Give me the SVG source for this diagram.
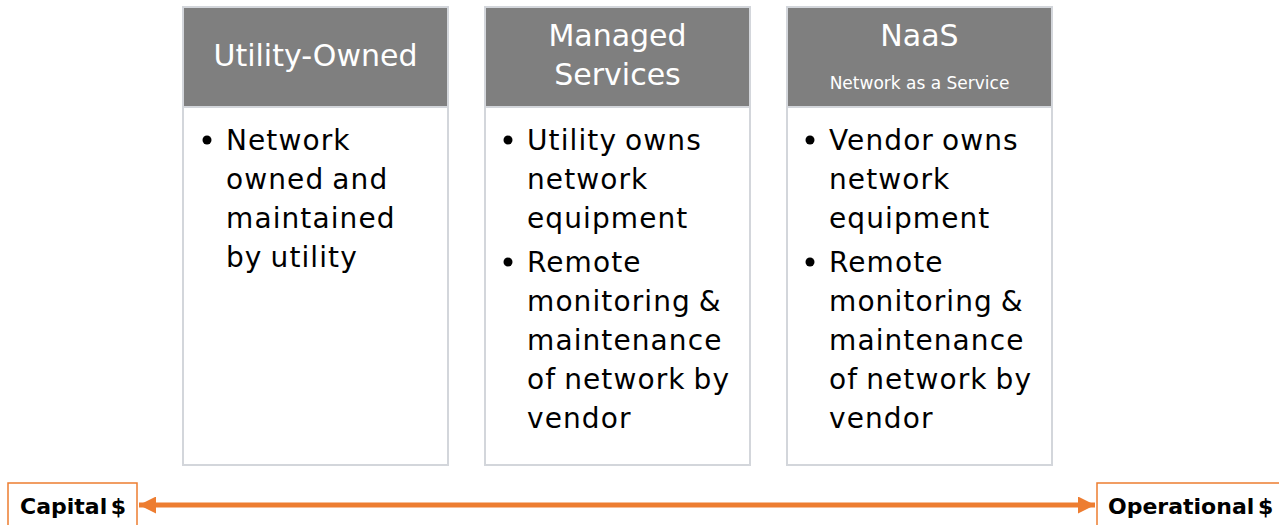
<svg xmlns="http://www.w3.org/2000/svg" width="1279" height="525" viewBox="0 0 1279 525">
<defs>
<style>
.box{fill:#ffffff;stroke:#D3D6DB;stroke-width:2}
.hdr{fill:#7F7F7F;stroke:#D3D6DB;stroke-width:2}
.ht{font-family:"DejaVu Sans",sans-serif;font-size:30px;fill:#ffffff;text-anchor:middle}
.hs{font-family:"DejaVu Sans",sans-serif;font-size:17px;fill:#ffffff;text-anchor:middle}
.bt{font-family:"DejaVu Sans",sans-serif;font-size:28px;fill:#000000;letter-spacing:1.1px;word-spacing:-2px}
.bul{fill:#000000}
.lab{fill:#ffffff;stroke:#ED7D31;stroke-width:1.5}
.lt{font-family:"DejaVu Sans",sans-serif;font-weight:bold;font-size:22px;fill:#000000;word-spacing:-4px}
</style>
<marker id="ah" viewBox="0 0 10 10" refX="10" refY="5" markerWidth="3.6" markerHeight="3.4" orient="auto-start-reverse" markerUnits="strokeWidth">
<path d="M0,0 L10,5 L0,10 z" fill="#ED7D31"/>
</marker>
</defs>
<rect width="1279" height="525" fill="#ffffff"/>

<g id="utility-owned">
<rect class="box" x="183" y="7" width="265" height="458"/>
<rect class="hdr" x="183" y="7" width="265" height="100"/>
<text class="ht" x="315.5" y="66">Utility-Owned</text>
<circle class="bul" cx="207" cy="140" r="4.5"/>
<text class="bt"><tspan x="226" y="150">Network</tspan><tspan x="226" y="189">owned and</tspan><tspan x="226" y="228">maintained</tspan><tspan x="226" y="267">by utility</tspan></text>
</g>

<g id="managed-services">
<rect class="box" x="485" y="7" width="265" height="458"/>
<rect class="hdr" x="485" y="7" width="265" height="100"/>
<text class="ht"><tspan x="617.5" y="46">Managed</tspan><tspan x="617.5" y="85">Services</tspan></text>
<circle class="bul" cx="508" cy="140" r="4.5"/>
<text class="bt"><tspan x="527" y="150">Utility owns</tspan><tspan x="527" y="189">network</tspan><tspan x="527" y="228">equipment</tspan></text>
<circle class="bul" cx="508" cy="262" r="4.5"/>
<text class="bt"><tspan x="527" y="272">Remote</tspan><tspan x="527" y="311">monitoring &amp;</tspan><tspan x="527" y="350">maintenance</tspan><tspan x="527" y="389">of network by</tspan><tspan x="527" y="428">vendor</tspan></text>
</g>

<g id="naas">
<rect class="box" x="787" y="7" width="265" height="458"/>
<rect class="hdr" x="787" y="7" width="265" height="100"/>
<text class="ht" x="919.5" y="46">NaaS</text>
<text class="hs" x="919.5" y="89">Network as a Service</text>
<circle class="bul" cx="810" cy="140" r="4.5"/>
<text class="bt"><tspan x="829" y="150">Vendor owns</tspan><tspan x="829" y="189">network</tspan><tspan x="829" y="228">equipment</tspan></text>
<circle class="bul" cx="810" cy="262" r="4.5"/>
<text class="bt"><tspan x="829" y="272">Remote</tspan><tspan x="829" y="311">monitoring &amp;</tspan><tspan x="829" y="350">maintenance</tspan><tspan x="829" y="389">of network by</tspan><tspan x="829" y="428">vendor</tspan></text>
</g>

<g id="capital">
<rect class="lab" x="8" y="483" width="129" height="50"/>
<text class="lt" x="20" y="514">Capital $</text>
</g>

<g id="operational">
<rect class="lab" x="1097" y="483" width="190" height="50"/>
<text class="lt" x="1108" y="514">Operational $</text>
</g>

<g id="connectors">
<line x1="139" y1="505" x2="1095" y2="505" stroke="#ED7D31" stroke-width="5" marker-start="url(#ah)" marker-end="url(#ah)"/>
</g>
</svg>
